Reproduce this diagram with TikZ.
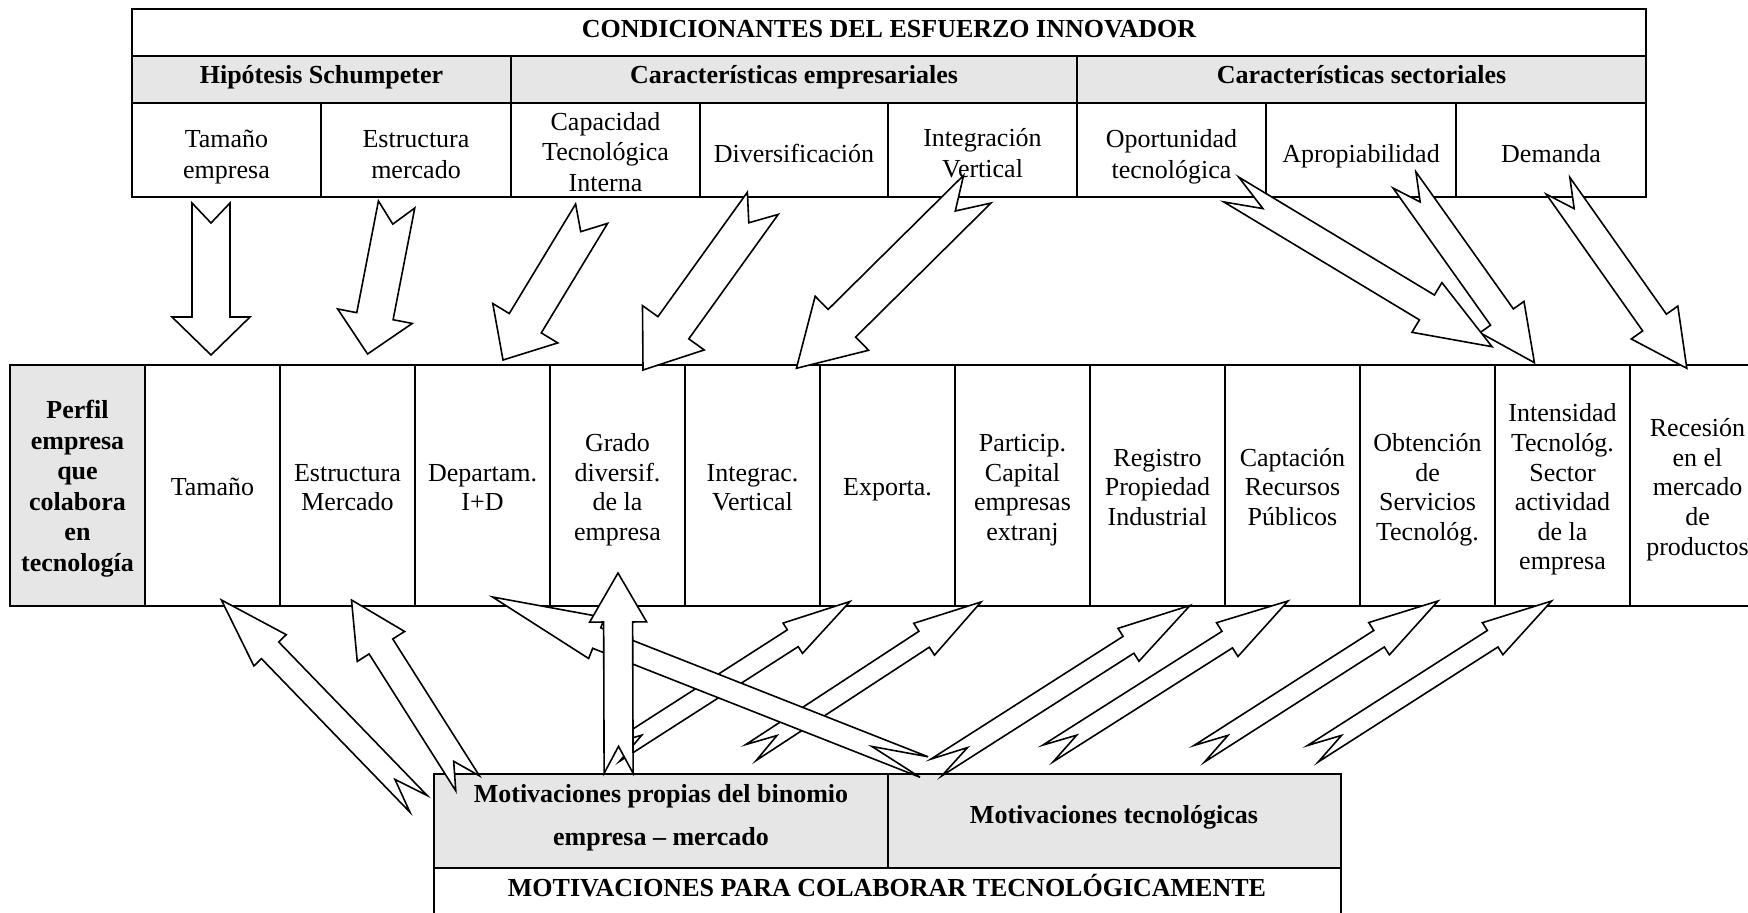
\documentclass[tikz,border=0pt]{standalone}
\usepackage{fontspec}
\setmainfont{Liberation Serif}
\usetikzlibrary{calc}
\definecolor{cellgray}{HTML}{E6E6E6}
\tikzset{
  txt/.style={align=center, inner sep=0pt, font=\fontsize{13}{15.25}\selectfont},
  mtxt/.style={align=center, inner sep=0pt, font=\fontsize{13}{14.8}\selectfont},
  btxt/.style={align=center, inner sep=0pt, font=\fontsize{13}{15.25}\selectfont\bfseries},
  frameline/.style={line width=1pt},
  divline/.style={line width=0.6pt},
  blockarrow/.style={draw, fill=white, line width=0.8pt, line join=miter, miter limit=10},
}
% #1 tail, #2 tip, #3 shaft half width, #4 head half width, #5 head length, #6 notch depth (all px)
\newcommand\barrow[6]{%
  \coordinate (bT) at (#1);
  \coordinate (bP) at (#2);
  \coordinate (bH) at ($(bP)!#5*0.5pt!(bT)$);
  \coordinate (bN) at ($(bT)!#6*0.5pt!(bP)$);
  \draw[blockarrow] ($(bT)!#3*0.5pt!90:(bP)$) -- ($(bH)!#3*0.5pt!90:(bP)$)
     -- ($(bH)!#4*0.5pt!90:(bP)$) -- (bP) -- ($(bH)!#4*0.5pt!-90:(bP)$)
     -- ($(bH)!#3*0.5pt!-90:(bP)$) -- ($(bT)!#3*0.5pt!-90:(bP)$) -- (bN) -- cycle;
}
\begin{document}
\begin{tikzpicture}[x=0.5pt, y=-0.5pt]
\useasboundingbox (0,0) rectangle (1748,913);
\fill[white] (0,0) rectangle (1748,913);
\clip (0,0) rectangle (1748,913);

% ---------- top table ----------
\fill[cellgray] (132,56) rectangle (1646,103);
\draw[frameline] (132,9.5) rectangle (1646,197);
\draw[frameline] (132,56) -- (1646,56) (132,103) -- (1646,103);
\draw[divline] (511,56) -- (511,197) (1077,56) -- (1077,197);
\foreach \x in {321,700,888,1266,1456} \draw[divline] (\x,103) -- (\x,197);

\node[btxt] (titletop) at (889,31.5) {\strut CONDICIONANTES DEL ESFUERZO INNOVADOR};
\node[btxt] (hschump) at (321.5,77) {\strut Hipótesis Schumpeter};
\node[btxt] (hcemp) at (794,77) {\strut Características empresariales};
\node[btxt] (hcsec) at (1361.5,77) {\strut Características sectoriales};

\node[txt] (ctam) at (226.5,157) {\strut Tamaño\\\strut empresa};
\node[txt] (cest) at (416,157) {\strut Estructura\\\strut mercado};
\node[txt] (ccap) at (605.5,154.5) {\strut Capacidad\\\strut Tecnológica\\\strut Interna};
\node[txt] (cdiv) at (794,156) {\strut Diversificación};
\node[txt] (cint) at (982.5,156) {\strut Integración\\\strut Vertical};
\node[txt] (copo) at (1171.5,157) {\strut Oportunidad\\\strut tecnológica};
\node[txt] (capr) at (1361,156) {\strut Apropiabilidad};
\node[txt] (cdem) at (1551,156) {\strut Demanda};

% ---------- middle table ----------
\fill[cellgray] (10,365) rectangle (145,606);
\draw[frameline] (10,365) rectangle (1765,606);
\foreach \k in {0,...,11} \draw[divline] ({145+135*\k},365) -- ({145+135*\k},606);

\node[btxt] (perfil) at (77.5,489) {\strut Perfil\\\strut empresa\\\strut que\\\strut colabora\\\strut en\\\strut tecnología};
\node[mtxt] (mtam) at (212.5,490) {\strut Tamaño};
\node[mtxt] (mest) at (347.5,490) {\strut Estructura\\\strut Mercado};
\node[mtxt] (mdep) at (482.5,490) {\strut Departam.\\\strut I+D};
\node[mtxt] (mgra) at (617.5,490) {\strut Grado\\\strut diversif.\\\strut de la\\\strut empresa};
\node[mtxt] (mint) at (752.5,490) {\strut Integrac.\\\strut Vertical};
\node[mtxt] (mexp) at (887.5,490) {\strut Exporta.};
\node[mtxt] (mpar) at (1022.5,490) {\strut Particip.\\\strut Capital\\\strut empresas\\\strut extranj};
\node[mtxt] (mreg) at (1157.5,490) {\strut Registro\\\strut Propiedad\\\strut Industrial};
\node[mtxt] (mcap) at (1292.5,490) {\strut Captación\\\strut Recursos\\\strut Públicos};
\node[mtxt] (mobt) at (1427.5,490) {\strut Obtención\\\strut de\\\strut Servicios\\\strut Tecnológ.};
\node[mtxt] (mins) at (1562.5,490) {\strut Intensidad\\\strut Tecnológ.\\\strut Sector\\\strut actividad\\\strut de la\\\strut empresa};
\node[mtxt] (mrec) at (1697.5,490) {\strut Recesión\\\strut en el\\\strut mercado\\\strut de\\\strut productos};

% ---------- bottom table ----------
\fill[cellgray] (434,774) rectangle (1341,868);
\draw[frameline] (434,774) rectangle (1341,960);
\draw[frameline] (434,868) -- (1341,868);
\draw[divline] (888,774) -- (888,868);
\node[btxt, font=\fontsize{13}{21.5}\selectfont\bfseries] (mpropias) at (661,815) {\strut Motivaciones propias del binomio\\\strut empresa – mercado};
\node[btxt] (mtecno) at (1114,817) {\strut Motivaciones tecnológicas};
\node[btxt] (titlebot) at (887,890) {\strut MOTIVACIONES PARA COLABORAR TECNOLÓGICAMENTE};

% ---------- arrow end points ----------
\coordinate (a1t) at (211,203);     \coordinate (a1h) at (211,355);
\coordinate (a2t) at (396.6,204.5); \coordinate (a2h) at (367.6,354);
\coordinate (a3t) at (591.6,213.7); \coordinate (a3h) at (503,360);
\coordinate (a4t) at (762.8,203.3); \coordinate (a4h) at (643,370);
\coordinate (a5t) at (977.3,189.2); \coordinate (a5h) at (796.4,368.3);
\coordinate (a6t) at (1231.2,189.5);\coordinate (a6h) at (1492,346.7);
\coordinate (a7t) at (1404.5,180);  \coordinate (a7h) at (1534.4,362.7);
\coordinate (a8t) at (1558,185.8);  \coordinate (a8h) at (1686.8,368.3);

\coordinate (b1t) at (418.6,803.9); \coordinate (b1h) at (221.4,600);
\coordinate (b2t) at (467.6,783.3); \coordinate (b2h) at (351.5,600);
\coordinate (b3t) at (924,767);     \coordinate (b3h) at (492.5,597);
\coordinate (b4t) at (618.6,773.3); \coordinate (b4h) at (618,573);
\coordinate (b5t) at (614,753);     \coordinate (b5h) at (850,601.5);
\coordinate (b6t) at (751,752.5);   \coordinate (b6h) at (981,602);
\coordinate (b7t) at (936.3,767.5); \coordinate (b7h) at (1190,605.5);
\coordinate (b8t) at (1048,753.4);  \coordinate (b8h) at (1288,601);
\coordinate (b9t) at (1199.3,753.7);\coordinate (b9h) at (1438,601);
\coordinate (b10t) at (1312.9,753.7);\coordinate (b10h) at (1551.6,601);

% ---------- top arrows ----------
\barrow{a1t}{a1h}{19}{39}{38}{20}
\barrow{a2t}{a2h}{18.5}{38}{38.5}{20}
\barrow{a3t}{a3h}{18.7}{38}{43}{21}
\barrow{a4t}{a4h}{19}{38}{52}{24}
\barrow{a5t}{a5h}{19.5}{38}{64}{31}
\barrow{a8t}{a8h}{14.5}{28.5}{56}{28}
\barrow{a7t}{a7h}{14}{27}{56}{27}
\barrow{a6t}{a6h}{14.5}{29}{76}{37}

% ---------- bottom arrows ----------
\barrow{b1t}{b1h}{12}{22.5}{70}{34}
\barrow{b2t}{b2h}{14}{28}{55}{26}
\barrow{b5t}{b5h}{10}{18}{68}{33}
\barrow{b6t}{b6h}{9.5}{19}{68}{31}
\barrow{b3t}{b3h}{11}{22}{112}{56}
\barrow{b7t}{b7h}{10}{19.5}{73}{37}
\barrow{b8t}{b8h}{9.8}{20}{72}{34}
\barrow{b9t}{b9h}{9.8}{19.2}{70}{34}
\barrow{b10t}{b10h}{9.8}{19}{70}{34}
\barrow{b4t}{b4h}{14.5}{28.5}{49}{27}
\end{tikzpicture}
\end{document}
